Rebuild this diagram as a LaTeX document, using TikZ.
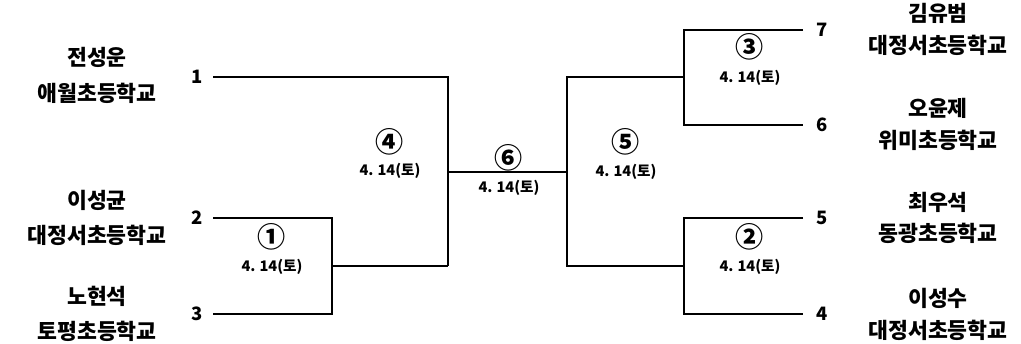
\documentclass[tikz,border=0pt]{standalone}
\usepackage{fontspec}
\setmainfont{Noto Sans CJK KR}
\usetikzlibrary{positioning}

\tikzset{
  player/.style={font=\fontsize{12.3}{14}\selectfont\bfseries, inner sep=0pt},
  seedno/.style={font=\fontsize{10.5}{12}\selectfont\bfseries, inner sep=0pt},
  matchno/.style={font=\fontsize{16}{18}\selectfont\bfseries, inner sep=0pt},
  matchday/.style={font=\fontsize{8.3}{10}\selectfont\bfseries, inner sep=0pt},
}

\begin{document}
\begin{tikzpicture}[x=0.02cm, y=-0.02cm, line width=1.1pt]
        \useasboundingbox (0,0) rectangle (1021,343);

        % Left side players
        \node[player] (name1) at (97,57) {전성운};
        \node[player] (school1) at (97,93) {애월초등학교};
        \node[player] (name2) at (97,200) {이성균};
        \node[player] (school2) at (97,235) {대정서초등학교};
        \node[player] (name3) at (97,296) {노현석};
        \node[player] (school3) at (97,331) {토평초등학교};

        % Right side players
        \node[player] (name7) at (938,13) {김유범};
        \node[player] (school7) at (938,45) {대정서초등학교};
        \node[player] (name6) at (938,108) {오윤제};
        \node[player] (school6) at (938,140) {위미초등학교};
        \node[player] (name5) at (938,202) {최우석};
        \node[player] (school5) at (938,233) {동광초등학교};
        \node[player] (name4) at (938,298) {이성수};
        \node[player] (school4) at (938,330) {대정서초등학교};

        % Seed numbers
        \node[seedno] (n1) at (197,77) {1};
        \node[seedno] (n2) at (197,218) {2};
        \node[seedno] (n3) at (197,314) {3};
        \node[seedno] (n7) at (822,30) {7};
        \node[seedno] (n6) at (822,125) {6};
        \node[seedno] (n5) at (822,218) {5};
        \node[seedno] (n4) at (822,314) {4};

        % Line ends and match joints
        \coordinate (s1) at (213,77);
        \coordinate (s2) at (213,218);
        \coordinate (s3) at (213,314);
        \coordinate (s7) at (803,30);
        \coordinate (s6) at (803,125);
        \coordinate (s5) at (803,218);
        \coordinate (s4) at (803,314);
        \coordinate (m1) at (332,266);
        \coordinate (m4) at (448,172);
        \coordinate (m5) at (567,172);
        \coordinate (m3) at (684,77);
        \coordinate (m2) at (684,266);

        % Bracket lines
        \draw (s2) -- (s2 -| m1) -- (s3 -| m1) -- (s3);
        \draw (m1) -- (m1 -| m4);
        \draw (s1) -- (s1 -| m4) -- (m1 -| m4);
        \draw (m4) -- (m5);
        \draw (m3) -- (m3 -| m5) -- (m2 -| m5) -- (m2);
        \draw (s7) -- (s7 -| m3) -- (s6 -| m3) -- (s6);
        \draw (s5) -- (s5 -| m2) -- (s4 -| m2) -- (s4);

        % Match numbers and dates
        \node[matchno] (g1) at (272,237) {①};
        \node[matchday] (d1) at (272,267) {4.\;14(토)};
        \node[matchno] (g4) at (390,142) {④};
        \node[matchday] (d4) at (390,171) {4.\;14(토)};
        \node[matchno] (g6) at (509,158) {⑥};
        \node[matchday] (d6) at (509,188) {4.\;14(토)};
        \node[matchno] (g5) at (626,142) {⑤};
        \node[matchday] (d5) at (626,172) {4.\;14(토)};
        \node[matchno] (g3) at (750,47) {③};
        \node[matchday] (d3) at (750,78) {4.\;14(토)};
        \node[matchno] (g2) at (750,237) {②};
        \node[matchday] (d2) at (750,267) {4.\;14(토)};
    \end{tikzpicture}
\end{document}
